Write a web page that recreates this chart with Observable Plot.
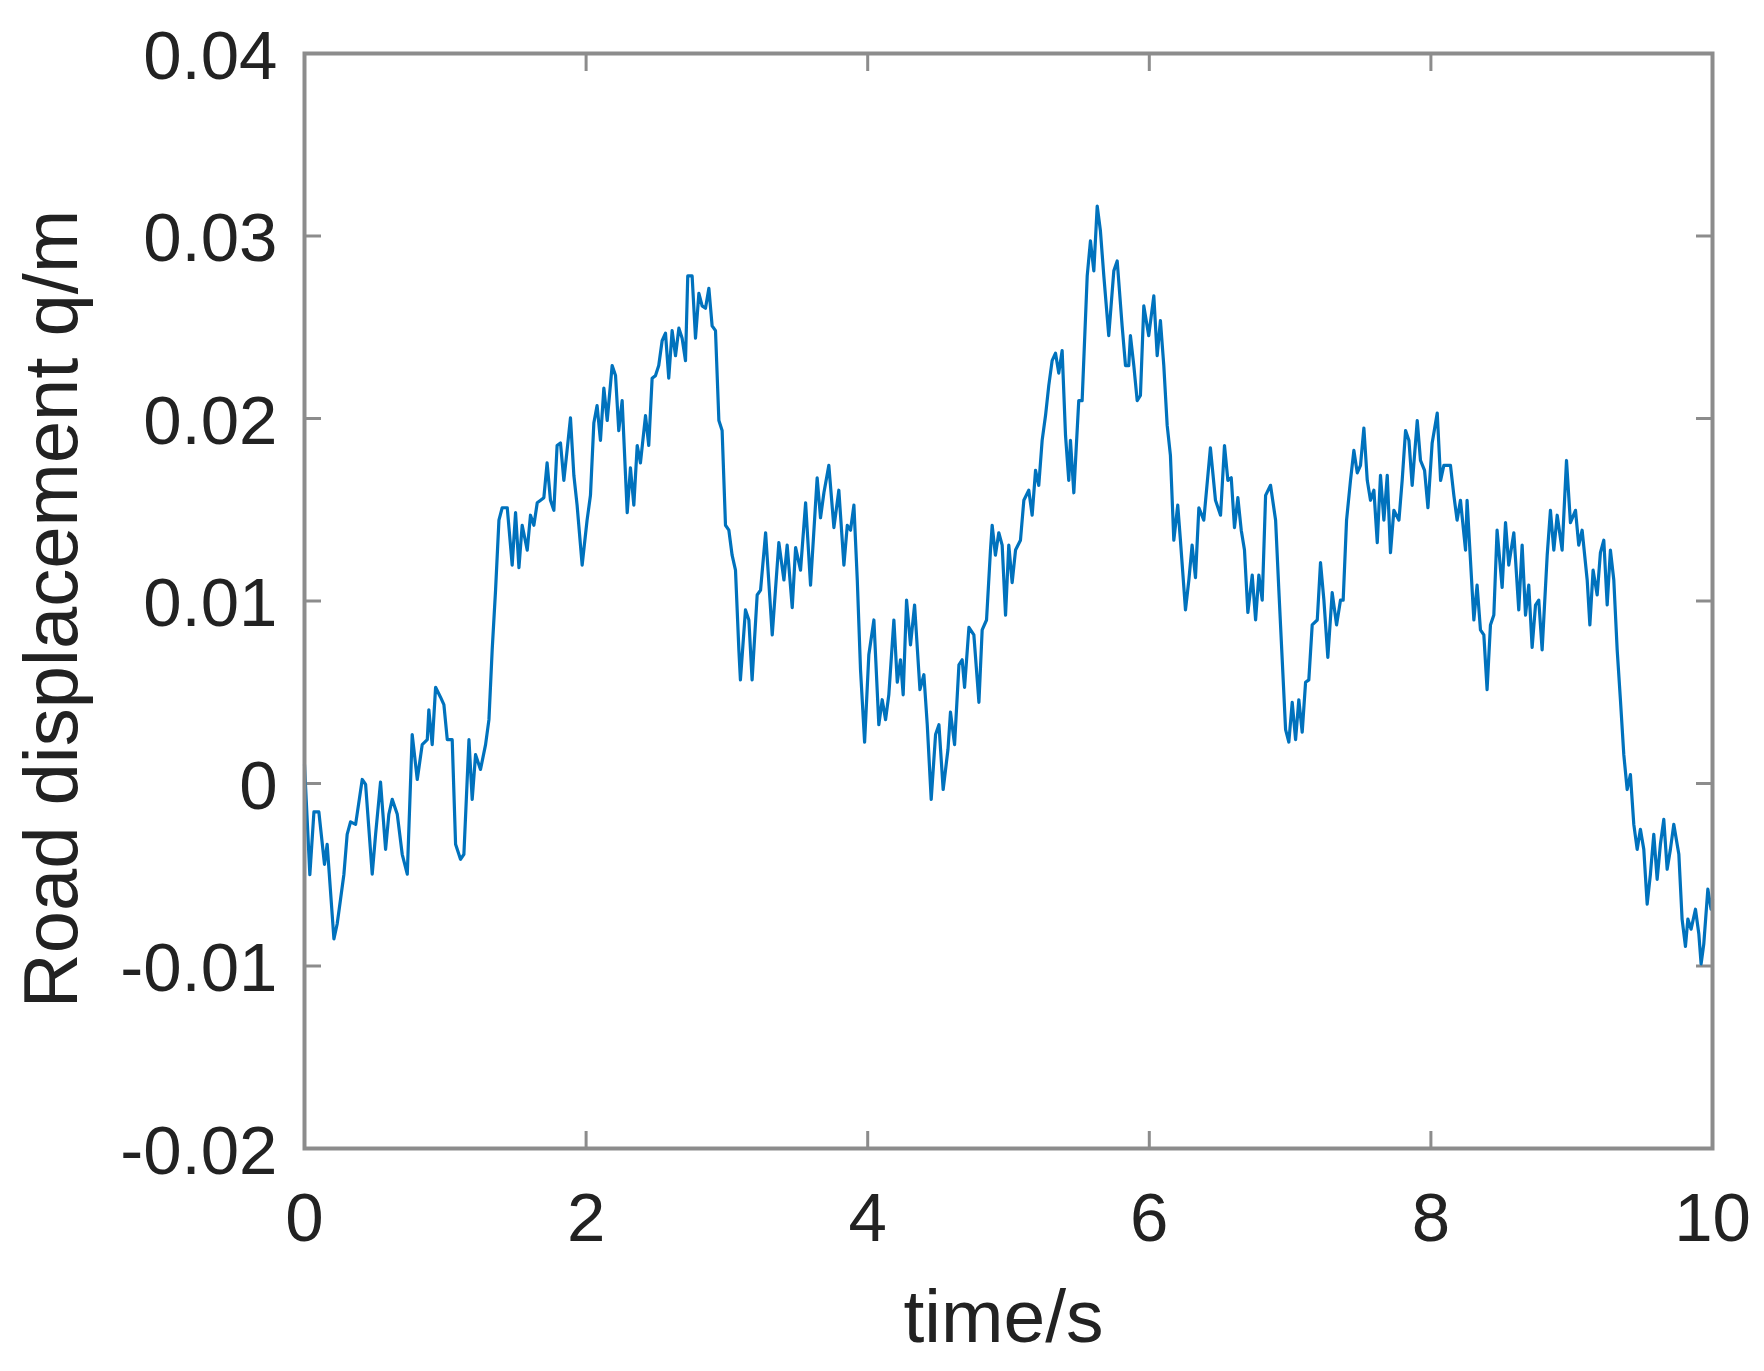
<!DOCTYPE html>
<html>
<head>
<meta charset="utf-8">
<script src="https://cdn.jsdelivr.net/npm/d3@7"></script>
<script src="https://cdn.jsdelivr.net/npm/@observablehq/plot@0.6"></script>
<style>
  html, body { margin: 0; padding: 0; background: #fff; }
  #chart { width: 1764px; height: 1371px; }
</style>
</head>
<body>
<div id="chart"></div>
<script>
// time (s)
const timeS = [
  0,0.038,0.067,0.102,0.142,0.161,0.209,0.232,0.256,0.280,0.303,0.327,0.363,0.410,0.434,0.481,0.505,0.540,0.576,0.599,0.623,0.659,0.694,0.730,0.765,0.801,0.836,0.872,0.883,0.907,0.931,0.966,0.990,1.014,1.049,1.073,1.108,1.132,1.168,1.191,1.215,1.250,1.286,1.310,1.333,1.357,1.381,1.404,1.440,1.475,1.499,1.523,1.546,1.582,1.605,1.629,1.653,1.677,
  1.700,1.723,1.747,1.771,1.794,1.818,1.842,1.865,1.889,1.913,1.936,1.972,2.007,2.031,2.055,2.078,2.102,2.126,2.150,2.185,2.209,2.232,2.256,2.292,2.315,2.339,2.363,2.386,2.422,2.445,2.469,2.493,2.516,2.540,2.564,2.587,2.611,2.635,2.659,2.682,2.706,2.722,2.753,2.777,2.801,2.824,2.848,2.872,2.895,2.919,2.943,2.966,2.990,3.014,3.037,3.061,3.085,3.096,3.132,3.156,3.179,3.215,3.239,
  3.275,3.322,3.369,3.405,3.428,3.464,3.488,3.523,3.559,3.594,3.641,3.665,3.689,3.724,3.760,3.795,3.831,3.855,3.878,3.902,3.926,3.949,3.978,4.008,4.044,4.079,4.103,4.127,4.150,4.186,4.210,4.233,4.252,4.276,4.304,4.333,4.371,4.399,4.423,4.451,4.482,4.506,4.536,4.570,4.588,4.617,4.648,4.671,4.688,4.719,4.754,4.790,4.813,4.844,4.872,
  4.884,4.907,4.931,4.955,4.979,5.002,5.026,5.050,5.085,5.109,5.144,5.168,5.192,5.215,5.239,5.263,5.286,5.310,5.334,5.357,5.381,5.405,5.428,5.440,5.464,5.499,5.523,5.559,5.582,5.606,5.630,5.653,5.677,5.712,5.748,5.772,5.807,5.831,5.854,5.866,5.890,5.914,5.937,5.961,5.996,6.032,6.056,6.079,6.103,6.127,6.150,6.174,6.202,6.221,6.257,6.281,6.304,6.328,6.352,6.387,6.434,6.470,6.506,
  6.534,6.558,6.582,6.605,6.629,6.653,6.676,6.700,6.731,6.755,6.778,6.802,6.826,6.861,6.897,6.920,6.944,6.968,6.991,7.015,7.039,7.062,7.086,7.110,7.133,7.157,7.193,7.216,7.240,7.268,7.299,7.330,7.358,7.377,7.401,7.429,7.453,7.477,7.500,7.524,7.548,7.571,7.595,7.619,7.642,7.666,7.690,7.713,7.737,7.773,7.796,7.820,7.844,7.867,7.903,7.926,7.955,7.979,8.009,8.045,8.069,8.092,8.139,
  8.163,8.186,8.210,8.246,8.257,8.281,8.305,8.328,8.352,8.376,8.399,8.423,8.447,8.470,8.506,8.530,8.553,8.589,8.624,8.648,8.672,8.695,8.719,8.743,8.766,8.790,8.826,8.849,8.873,8.897,8.932,8.963,8.991,9.027,9.050,9.074,9.110,9.129,9.152,9.181,9.204,9.228,9.252,9.275,9.299,9.323,9.346,9.370,9.394,9.417,9.441,9.465,9.488,9.512,9.536,9.559,9.583,9.607,9.630,9.654,9.678,9.701,9.725,9.761,9.784,9.808,9.825,9.848,9.879,9.903,9.919,9.938,9.967,9.990,10.0
];

// road displacement q (m)
const displacement = [
  0.00104,-0.00500,-0.00156,-0.00156,-0.00443,-0.00333,-0.00852,-0.00770,-0.00634,-0.00497,-0.00279,-0.00210,-0.00224,0.00022,-0.00005,-0.00497,-0.00279,0.00008,-0.00361,-0.00169,-0.00087,-0.00169,-0.00388,-0.00497,0.00268,0.00022,0.00213,0.00240,0.00404,0.00213,0.00527,0.00473,0.00432,0.00240,0.00240,-0.00333,-0.00415,-0.00388,0.00240,-0.00087,0.00158,0.00077,0.00213,0.00350,0.00732,0.01060,0.01443,0.01511,0.01511,0.01197,0.01484,0.01183,0.01415,0.01279,0.01470,0.01415,0.01538,0.01552,
  0.01566,0.01757,0.01552,0.01497,0.01852,0.01866,0.01661,0.01825,0.02003,0.01689,0.01525,0.01197,0.01443,0.01579,0.01975,0.02071,0.01880,0.02167,0.01989,0.02290,0.02235,0.01934,0.02098,0.01484,0.01730,0.01525,0.01852,0.01757,0.02016,0.01852,0.02221,0.02235,0.02290,0.02426,0.02467,0.02221,0.02481,0.02344,0.02495,0.02440,0.02317,0.02781,0.02781,0.02440,0.02686,0.02617,0.02604,0.02713,0.02508,0.02481,0.01989,0.01934,0.01415,0.01388,0.01251,0.01169,0.00732,0.00568,0.00951,0.00896,0.00568,0.01033,0.01060,
  0.01374,0.00814,0.01320,0.01115,0.01306,0.00964,0.01292,0.01169,0.01538,0.01087,0.01675,0.01456,0.01593,0.01743,0.01402,0.01607,0.01197,0.01415,0.01388,0.01525,0.01115,0.00623,0.00227,0.00705,0.00896,0.00322,0.00459,0.00350,0.00486,0.00896,0.00555,0.00678,0.00486,0.01005,0.00760,0.00978,0.00514,0.00596,0.00322,-0.00087,0.00268,0.00322,-0.00033,0.00186,0.00391,0.00213,0.00650,0.00678,0.00527,0.00855,0.00814,0.00445,0.00842,0.00896,0.01279,
  0.01415,0.01251,0.01374,0.01306,0.00923,0.01306,0.01101,0.01279,0.01333,0.01552,0.01607,0.01470,0.01716,0.01634,0.01880,0.02016,0.02180,0.02317,0.02358,0.02249,0.02372,0.01907,0.01661,0.01880,0.01593,0.02098,0.02098,0.02781,0.02973,0.02809,0.03164,0.03027,0.02781,0.02454,0.02809,0.02863,0.02508,0.02290,0.02290,0.02454,0.02290,0.02098,0.02126,0.02617,0.02454,0.02672,0.02344,0.02536,0.02290,0.01962,0.01798,0.01333,0.01525,0.01333,0.00951,0.01115,0.01306,0.01128,0.01511,0.01443,0.01839,0.01552,0.01470,
  0.01852,0.01661,0.01675,0.01402,0.01566,0.01388,0.01279,0.00937,0.01142,0.00896,0.01142,0.01005,0.01579,0.01634,0.01443,0.01060,0.00678,0.00295,0.00227,0.00445,0.00240,0.00459,0.00281,0.00555,0.00568,0.00869,0.00896,0.01210,0.01005,0.00691,0.01046,0.00869,0.01005,0.01005,0.01443,0.01661,0.01825,0.01702,0.01743,0.01948,0.01661,0.01552,0.01607,0.01320,0.01689,0.01443,0.01689,0.01265,0.01497,0.01443,0.01661,0.01934,0.01880,0.01634,0.01989,0.01770,0.01716,0.01511,0.01866,0.02030,0.01661,0.01743,0.01743,
  0.01579,0.01443,0.01552,0.01279,0.01552,0.01224,0.00896,0.01087,0.00842,0.00814,0.00514,0.00869,0.00923,0.01388,0.01074,0.01429,0.01197,0.01374,0.00951,0.01306,0.00923,0.01087,0.00746,0.00978,0.01005,0.00732,0.01251,0.01497,0.01279,0.01470,0.01279,0.01770,0.01429,0.01497,0.01306,0.01388,0.01115,0.00869,0.01169,0.01033,0.01265,0.01333,0.00978,0.01279,0.01115,0.00732,0.00459,0.00158,-0.00033,0.00049,-0.00224,-0.00361,-0.00251,-0.00361,-0.00661,-0.00497,-0.00279,-0.00525,-0.00333,-0.00197,-0.00470,-0.00361,-0.00224,-0.00388,-0.00743,-0.00893,-0.00743,-0.00798,-0.00689,-0.00825,-0.00989,-0.00880,-0.00579,-0.00689,-0.00634
];

const xTicks = [0, 2, 4, 6, 8, 10];
const xTickLabels = ["0", "2", "4", "6", "8", "10"];
const yTicks = [-0.02, -0.01, 0, 0.01, 0.02, 0.03, 0.04];
const yTickLabels = ["-0.02", "-0.01", "0", "0.01", "0.02", "0.03", "0.04"];
const xLabel = "time/s";
const yLabel = "Road displacement q/m";

const rows = timeS.map((t, i) => ({t, q: displacement[i]}));

const axisGray = "#8c8c8c";
const textColor = "#222222";
const lineBlue = "#0072BD";

const chart = Plot.plot({
  width: 1764,
  height: 1371,
  marginLeft: 304,
  marginRight: 52,
  marginTop: 53,
  marginBottom: 223,
  style: {
    fontFamily: "'Liberation Sans', Arial, Helvetica, sans-serif",
    fontSize: "69px",
    color: textColor,
    background: "#ffffff",
    overflow: "visible"
  },
  x: {domain: [0, 10]},
  y: {domain: [-0.02, 0.04]},
  marks: [
    // inward ticks on all four sides
    Plot.axisX(xTicks, {anchor: "bottom", tickSize: -17, tickFormat: () => "", stroke: axisGray, strokeWidth: 3, label: null}),
    Plot.axisX(xTicks, {anchor: "top", tickSize: -17, tickFormat: () => "", stroke: axisGray, strokeWidth: 3, label: null}),
    Plot.axisY(yTicks, {anchor: "left", tickSize: -17, tickFormat: () => "", stroke: axisGray, strokeWidth: 3, label: null}),
    Plot.axisY(yTicks, {anchor: "right", tickSize: -17, tickFormat: () => "", stroke: axisGray, strokeWidth: 3, label: null}),
    // tick labels
    Plot.axisX(xTicks, {anchor: "bottom", tickSize: 0, tickPadding: 43, fontSize: 69, fill: textColor,
      tickFormat: (d) => xTickLabels[xTicks.indexOf(d)], label: null}),
    Plot.axisY(yTicks, {anchor: "left", tickSize: 0, tickPadding: 27, fontSize: 69, fill: textColor, dy: 3,
      tickFormat: (d) => yTickLabels[yTicks.indexOf(d)], label: null}),
    // data
    Plot.line(rows, {x: "t", y: "q", stroke: lineBlue, strokeWidth: 3.2, strokeLinejoin: "round"}),
    // frame box
    Plot.frame({stroke: axisGray, strokeWidth: 4}),
    // axis titles
    Plot.text([xLabel], {text: (d) => d, frameAnchor: "bottom", textAnchor: "middle", dy: 193, dx: -5, fontSize: 75, fill: textColor}),
    Plot.text([yLabel], {text: (d) => d, frameAnchor: "left", textAnchor: "middle", rotate: -90, dx: -252, dy: 8, fontSize: 76, fill: textColor})
  ]
});

document.getElementById("chart").appendChild(chart);
</script>
</body>
</html>
